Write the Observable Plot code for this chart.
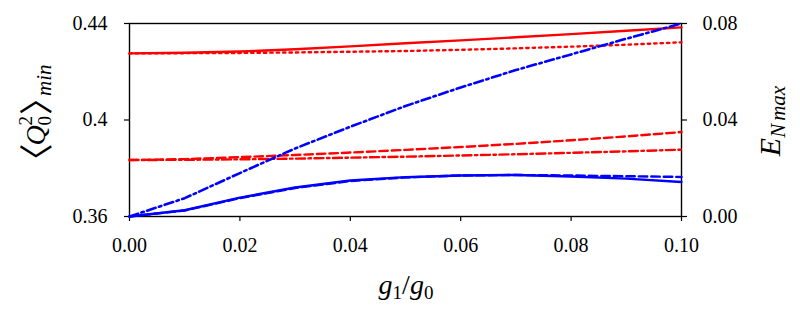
<!DOCTYPE html>
<html>
<head>
<meta charset="utf-8">
<script src="https://cdn.jsdelivr.net/npm/d3@7"></script>
<script src="https://cdn.jsdelivr.net/npm/@observablehq/plot@0.6"></script>
<style>
  html, body { margin: 0; padding: 0; background: #fff; }
  #wrap { position: relative; width: 800px; height: 320px; }
  #wrap svg { position: absolute; left: 0; top: 0; font-family: "Liberation Serif", "Times New Roman", "DejaVu Serif", serif !important; }
  #wrap svg text { font-family: "Liberation Serif", "Times New Roman", "DejaVu Serif", serif; }
</style>
</head>
<body>
<div id="wrap"></div>
<script>
// ---- data ----
const g = [0, 0.01, 0.02, 0.03, 0.04, 0.05, 0.06, 0.07, 0.08, 0.09, 0.10];

// left axis: <Q0^2>_min
const qSolid   = [0.4276, 0.4279, 0.4284, 0.4293, 0.4305, 0.4318, 0.4330, 0.4343, 0.4356, 0.4370, 0.4384];
const qDotted  = [0.4276, 0.4277, 0.4278, 0.4280, 0.4283, 0.4286, 0.4291, 0.4297, 0.4304, 0.4312, 0.4322];
const qDashed  = [0.3834, 0.3838, 0.3846, 0.3855, 0.3865, 0.3876, 0.3888, 0.3901, 0.3916, 0.3932, 0.3950];
const qDashDot = [0.3834, 0.3835, 0.3837, 0.3840, 0.3844, 0.3848, 0.3853, 0.3858, 0.3864, 0.3870, 0.3877];

// right axis: E_N max
const eSolid   = [0, 0.0026, 0.0078, 0.0120, 0.0149, 0.0163, 0.0170, 0.0172, 0.0166, 0.0157, 0.0143];
const eDashed  = [0, 0.0025, 0.0076, 0.0118, 0.0147, 0.0162, 0.0170, 0.0172, 0.0170, 0.0167, 0.0164];
const eDashDot = [0, 0.0076, 0.0180, 0.0282, 0.0372, 0.0458, 0.0535, 0.0607, 0.0672, 0.0737, 0.0800];

const xTicks = [0, 0.02, 0.04, 0.06, 0.08, 0.10];
const yLeftTicks = [0.36, 0.40, 0.44];
const yLeftLabels = ["0.36", "0.4", "0.44"];
const yRightTicks = [0, 0.04, 0.08];

const RED = "#ff0000", BLUE = "#0000ff";
const rows = arr => g.map((x, i) => ({x, v: arr[i]}));

const FONT = '"Liberation Serif", "Times New Roman", "DejaVu Serif", serif';
const dims = {width: 800, height: 320, marginTop: 23, marginLeft: 129, marginRight: 119, marginBottom: 104};
const style = {fontFamily: FONT, fontSize: "20px", background: "transparent", color: "black", overflow: "visible"};
const LW = 2.4;

const left = Plot.plot({
  ...dims, style,
  x: {domain: [0, 0.1]},
  y: {domain: [0.36, 0.44]},
  marks: [
    Plot.frame({stroke: "black", strokeWidth: 1.4}),
    Plot.axisX({ticks: xTicks, tickFormat: d => d.toFixed(2), tickSize: 5, tickPadding: 16, label: null, fontSize: 20, strokeWidth: 1.2}),
    Plot.axisY({ticks: yLeftTicks, tickFormat: (d, i) => yLeftLabels[i], tickSize: 5, tickPadding: 17, label: null, fontSize: 20, strokeWidth: 1.2}),
    Plot.line(rows(qDashed),  {x: "x", y: "v", stroke: RED, strokeWidth: LW, strokeDasharray: "8.5,4"}),
    Plot.line(rows(qDashDot), {x: "x", y: "v", stroke: RED, strokeWidth: LW, strokeDasharray: "9,3.5,2.5,3.5"}),
    Plot.line(rows(qDotted),  {x: "x", y: "v", stroke: RED, strokeWidth: LW, strokeDasharray: "2.4,4"}),
    Plot.line(rows(qSolid),   {x: "x", y: "v", stroke: RED, strokeWidth: LW})
  ]
});

const right = Plot.plot({
  ...dims, style,
  x: {domain: [0, 0.1], axis: null},
  y: {domain: [0, 0.08], axis: null},
  marks: [
    Plot.axisY({anchor: "right", ticks: yRightTicks, tickFormat: d => d.toFixed(2), tickSize: 5, tickPadding: 16, label: null, fontSize: 20, strokeWidth: 1.2}),
    Plot.line(rows(eDashed),  {x: "x", y: "v", stroke: BLUE, strokeWidth: LW, strokeDasharray: "8.5,4"}),
    Plot.line(rows(eSolid),   {x: "x", y: "v", stroke: BLUE, strokeWidth: LW}),
    Plot.line(rows(eDashDot), {x: "x", y: "v", stroke: BLUE, strokeWidth: 2.6, strokeDasharray: "9,3.5,2.5,3.5"})
  ]
});

const wrap = document.getElementById("wrap");
wrap.appendChild(left);
wrap.appendChild(right);

const BRACKET = '"Noto Sans CJK JP", "Noto Sans CJK SC", sans-serif';

// left title  <Q_0^2>_min
const sl = d3.select(left);
const tl = sl.append("text")
  .attr("transform", "translate(45,121) rotate(-90)")
  .attr("text-anchor", "middle")
  .style("font-family", FONT).style("font-size", "28px").attr("fill", "black");
tl.append("tspan").text("〈").style("font-family", BRACKET).style("font-size", "34px").attr("dy", 4);
tl.append("tspan").text("Q").style("font-style", "italic").attr("dx", -2).attr("dy", -4);
tl.append("tspan").text("2").style("font-size", "19px").attr("dy", -13);
tl.append("tspan").text("0").style("font-size", "19px").attr("dx", -9.5).attr("dy", 19);
tl.append("tspan").text("〉").style("font-family", BRACKET).style("font-size", "34px").attr("dx", 1).attr("dy", -2);
tl.append("tspan").text("min").style("font-style", "italic").style("font-size", "21px").attr("dx", -15).attr("dy", 2);

// bottom title g1/g0
const tb = sl.append("text")
  .attr("x", 406).attr("y", 294)
  .attr("text-anchor", "middle")
  .style("font-family", FONT).style("font-size", "28px").attr("fill", "black");
tb.append("tspan").text("g").style("font-style", "italic");
tb.append("tspan").text("1").style("font-size", "19px").attr("dy", 5);
tb.append("tspan").text("/").attr("dy", -5);
tb.append("tspan").text("g").style("font-style", "italic");
tb.append("tspan").text("0").style("font-size", "19px").attr("dy", 5);

// right title E_{N max}
const sr = d3.select(right);
const tr = sr.append("text")
  .attr("transform", "translate(780,121) rotate(-90)")
  .attr("text-anchor", "middle")
  .style("font-family", FONT).style("font-size", "30px").attr("fill", "black");
tr.append("tspan").text("E").style("font-style", "italic");
tr.append("tspan").text("N").style("font-style", "italic").style("font-size", "21px").attr("dy", 5);
tr.append("tspan").text("max").style("font-style", "italic").style("font-size", "21px").attr("dx", 3);
</script>
</body>
</html>
